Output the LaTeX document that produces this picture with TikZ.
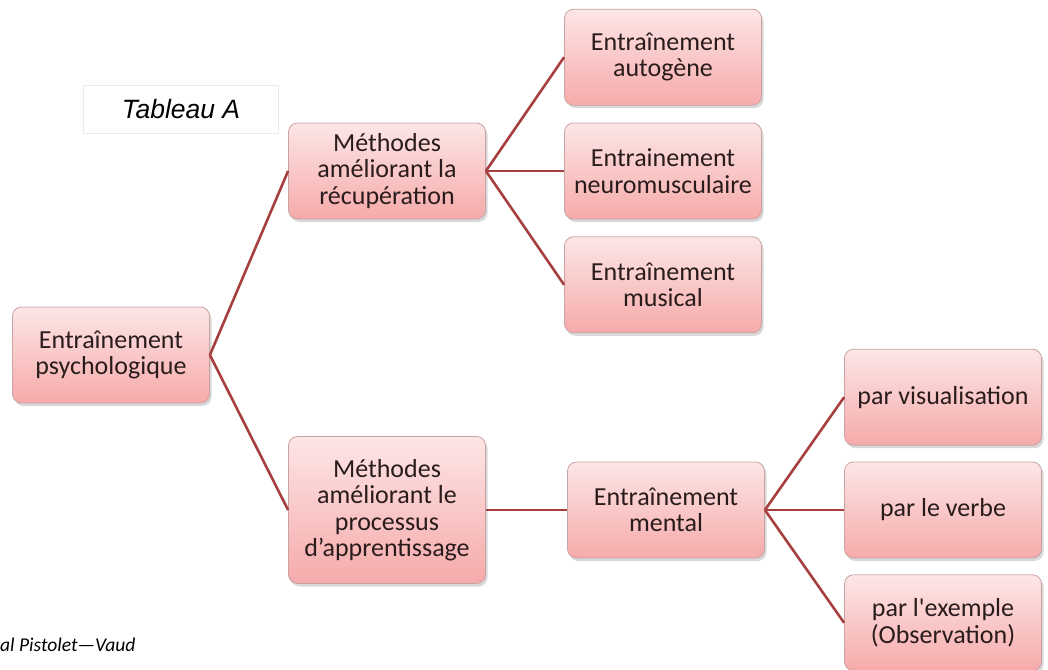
\documentclass[tikz,border=0pt]{standalone}
\usepackage{fontspec}
\setmainfont{Carlito}
\newfontfamily\arialfont{Liberation Sans}
\usepackage{tikz}
\usetikzlibrary{positioning, shadows}

\definecolor{linkred}{HTML}{A5403E}
\definecolor{boxtop}{HTML}{FDE6E6}
\definecolor{boxbot}{HTML}{F6AAAA}
\definecolor{boxline}{HTML}{C9A3A3}
\definecolor{boxtext}{HTML}{2A1C1C}

\begin{document}
\begin{tikzpicture}[x=1pt,y=-1pt,node distance=17pt,
 main node/.style={rectangle,rounded corners=9pt,draw=boxline,line width=0.8pt,
   top color=boxtop,bottom color=boxbot,minimum width=197pt,minimum height=96pt,
   align=center,text=boxtext,font=\fontsize{26}{26.5}\selectfont,
   drop shadow={opacity=0.3,shadow xshift=2pt,shadow yshift=-3pt}},
 link/.style={draw=linkred,line width=2.6pt}]

  \useasboundingbox (0,0) rectangle (1048,669);

  \node[main node] (1) at (111,355) {Entraînement\\psychologique};
  \node[main node] (2) at (387,171) {Méthodes\\améliorant la\\récupération};
  \node[main node,minimum height=147pt] (3) at (387,510) {Méthodes\\améliorant le\\processus\\d’apprentissage};
  \node[main node] (5) at (663,171) {Entrainement\\neuromusculaire};
  \node[main node] (4) [above=17pt of 5] {Entraînement\\autogène};
  \node[main node] (6) [below=17pt of 5] {Entraînement\\musical};
  \node[main node] (7) at (666,510) {Entraînement\\mental};
  \node[main node] (9) at (943,510) {par le verbe};
  \node[main node] (8) [above=16pt of 9] {par visualisation};
  \node[main node] (10) [below=16pt of 9] {par l\textquotesingle exemple\\(Observation)};

  \node[draw=black!8,fill=white,line width=0.8pt,minimum width=195pt,minimum height=48pt,
    font=\arialfont\itshape\fontsize{26.5}{28}\selectfont] (tab) at (181,109) {Tableau A};
  \node[anchor=west,inner sep=0pt,font=\itshape\fontsize{19.5}{21}\selectfont] (src) at (0,645) {al Pistolet—Vaud};

  \foreach \s/\t in {1/2, 1/3, 2/4, 2/5, 2/6, 3/7, 7/8, 7/9, 7/10} {
   \path[link] (\s.east) -- (\t.west);}

\end{tikzpicture}
\end{document}
